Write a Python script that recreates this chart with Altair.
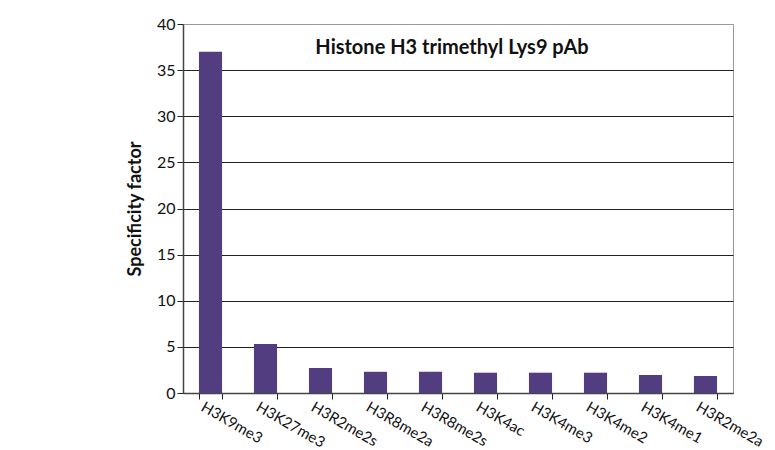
import altair as alt
import pandas as pd

categories = ["H3K9me3", "H3K27me3", "H3R2me2s", "H3R8me2a", "H3R8me2s",
              "H3K4ac", "H3K4me3", "H3K4me2", "H3K4me1", "H3R2me2a"]
values = [37.0, 5.3, 2.7, 2.3, 2.3, 2.2, 2.2, 2.2, 1.95, 1.85]
y_ticks = [0, 5, 10, 15, 20, 25, 30, 35, 40]

df = pd.DataFrame({"mark": categories, "factor": values})
FONT = "Lato"

chart = alt.Chart(df).mark_bar(color="#523D80").encode(
    x=alt.X("mark:N", sort=categories, title=None,
            scale=alt.Scale(paddingInner=0.58, paddingOuter=0.29),
            axis=alt.Axis(labelAngle=30, labelAlign="left", labelBaseline="top",
                          labelOffset=-5, labelPadding=0, labelFontSize=15,
                          labelFont=FONT, labelColor="#111", labelLimit=300,
                          tickBand="extent", tickSize=6, tickColor="#222",
                          domainColor="#444", domainWidth=1.5, grid=False)),
    y=alt.Y("factor:Q", title="Specificity factor",
            scale=alt.Scale(domain=[0, 40], nice=False),
            axis=alt.Axis(values=y_ticks, labelFontSize=16, labelFont=FONT,
                          labelColor="#111", tickSize=6, tickColor="#222",
                          domainColor="#444", domainWidth=1.5,
                          titleFont=FONT, titleFontSize=18, titleFontWeight="bold",
                          titleColor="#111", titlePadding=12,
                          gridColor=alt.condition("datum.value == 40",
                                                  alt.value("#999"), alt.value("#222")),
                          gridWidth=1)),
).properties(
    width=550, height=369,
    title=alt.TitleParams("Histone H3 trimethyl Lys9 pAb", font=FONT, fontSize=20,
                          fontWeight="bold", color="#111", anchor="middle",
                          offset=-42, dx=-6),
    autosize=alt.AutoSizeParams(type="none"),
    padding={"left": 175, "top": 16, "right": 34, "bottom": 57},
).configure_view(stroke="#999", strokeWidth=1)

chart.save("out.html", embed_options={"renderer": "svg", "actions": False})
